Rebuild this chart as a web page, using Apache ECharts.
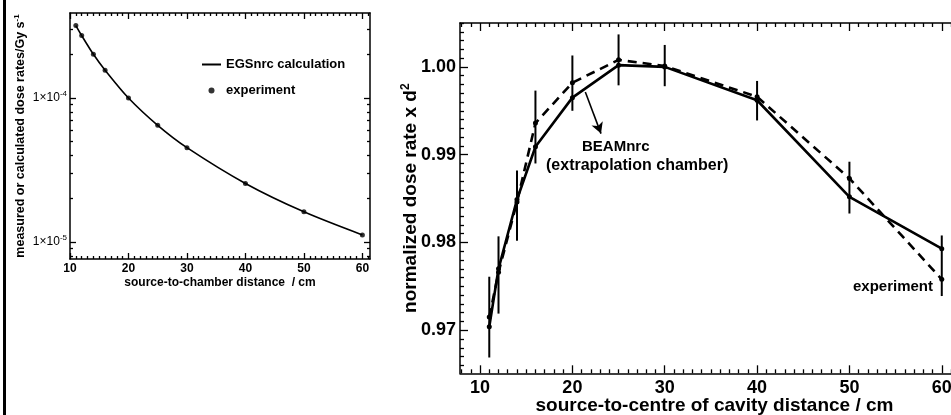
<!DOCTYPE html>
<html><head><meta charset="utf-8">
<script src="https://cdn.jsdelivr.net/npm/echarts@6/dist/echarts.min.js"></script>
<style>html,body{margin:0;padding:0;background:#fff}#c{width:951px;height:415px}</style>
</head><body><div id="c"></div>
<script>
// ---------- Left panel data ----------
const leftDist = [11, 12, 14, 16, 20, 25, 30, 40, 50, 60];
const calcRate = [3.18e-4, 2.71e-4, 2.01e-4, 1.56e-4, 1.0e-4, 6.46e-5, 4.52e-5, 2.55e-5, 1.62e-5, 1.12e-5];
const expRate  = [3.18e-4, 2.71e-4, 2.01e-4, 1.56e-4, 1.0e-4, 6.46e-5, 4.52e-5, 2.55e-5, 1.62e-5, 1.12e-5];
const leftXTicks = [10, 20, 30, 40, 50, 60];
const leftYMajor = [1e-5, 1e-4];
const leftYMinor = [8e-6, 9e-6, 2e-5, 3e-5, 4e-5, 5e-5, 6e-5, 7e-5, 8e-5, 9e-5, 2e-4, 3e-4];

// ---------- Right panel data ----------
const rightDist = [11, 12, 14, 16, 20, 25, 30, 40, 50, 60];
const beamNorm = [0.9704, 0.9770, 0.9849, 0.9909, 0.9965, 1.0002, 1.0000, 0.9962, 0.9852, 0.9793];
const expNorm  = [0.9715, 0.9766, 0.9846, 0.9936, 0.9982, 1.0008, 1.0001, 0.9966, 0.9873, 0.9758];
const errLow   = [0.9669, 0.9719, 0.9802, 0.9890, 0.9950, 0.9979, 0.9978, 0.9939, 0.9833, 0.9739];
const errHigh  = [0.9761, 0.9807, 0.9882, 0.9973, 1.0013, 1.0037, 1.0025, 0.9984, 0.9892, 0.9808];
const rightXTicks = [10, 20, 30, 40, 50, 60];
const rightYTicks = [0.97, 0.98, 0.99, 1.00];
const arrowFrom = [21.4, 0.99715];
const arrowTo = [23.1, 0.99240];

const FONT = '"Liberation Sans", Arial, Helvetica, sans-serif';
const BLACK = '#000';

function minorList(a, b, step, majorStep) {
  const out = [];
  for (let k = Math.round(a / step); k <= Math.round(b / step); k++) {
    if (k % Math.round(majorStep / step) !== 0) out.push(+(k * step).toFixed(6));
  }
  return out;
}
const leftXMinor = minorList(11, 61, 1, 10);
const rightXMinor = minorList(8, 61, 1, 10);
const rightYMinor = minorList(0.966, 1.005, 0.001, 0.01);

function xAx(grid, min, max, pos, ticks, len, opt) {
  return Object.assign({
    type: 'value', gridIndex: grid, position: pos, min: min, max: max,
    axisLine: { show: true, onZero: false, lineStyle: { color: BLACK, width: 1.5 } },
    axisTick: { show: true, inside: true, length: len, customValues: ticks, lineStyle: { color: BLACK, width: 1.3 } },
    axisLabel: { show: false },
    splitLine: { show: false }
  }, opt || {});
}
function yAx(grid, type, min, max, pos, ticks, len, opt) {
  return Object.assign({
    type: type, gridIndex: grid, position: pos, min: min, max: max,
    axisLine: { show: true, onZero: false, lineStyle: { color: BLACK, width: 1.5 } },
    axisTick: { show: true, inside: true, length: len, customValues: ticks, lineStyle: { color: BLACK, width: 1.3 } },
    axisLabel: { show: false },
    splitLine: { show: false }
  }, opt || {});
}

const LXMIN = 10, LXMAX = 61.3, LYMIN = 7.62e-6, LYMAX = 3.89e-4;
const RXMIN = 7.83, RXMAX = 61, RYMIN = 0.9651, RYMAX = 1.0050;

const chart = echarts.init(document.getElementById('c'), null, { renderer: 'canvas' });
chart.setOption({
  backgroundColor: '#fff',
  animation: false,
  grid: [
    { left: 70, top: 13, width: 300, height: 246, outerBoundsMode: 'none', containLabel: false },
    { left: 460, top: 23, width: 491, height: 350.3, outerBoundsMode: 'none', containLabel: false }
  ],
  legend: {
    orient: 'vertical', left: 196, top: 53, itemWidth: 19, itemHeight: 6, itemGap: 13,
    textStyle: { fontFamily: FONT, fontWeight: 'bold', fontSize: 13, color: BLACK },
    data: [
      { name: 'EGSnrc calculation', itemStyle: { opacity: 0 } },
      { name: 'experiment' }
    ]
  },
  xAxis: [
    xAx(0, LXMIN, LXMAX, 'bottom', leftXTicks, 6, {
      axisLabel: { show: true, customValues: leftXTicks, margin: 4, fontFamily: FONT, fontWeight: 'bold', fontSize: 12, color: BLACK },
      name: 'source-to-chamber distance  / cm', nameLocation: 'middle', nameGap: 18, nameMoveOverlap: false,
      nameTextStyle: { fontFamily: FONT, fontWeight: 'bold', fontSize: 12, color: BLACK, verticalAlign: 'top' }
    }),
    xAx(0, LXMIN, LXMAX, 'bottom', leftXMinor, 3, { axisLine: { show: false } }),
    xAx(0, LXMIN, LXMAX, 'top', leftXTicks, 6),
    xAx(0, LXMIN, LXMAX, 'top', leftXMinor, 3, { axisLine: { show: false } }),
    xAx(1, RXMIN, RXMAX, 'bottom', rightXTicks, 8, {
      axisLabel: { show: true, customValues: rightXTicks, margin: 6, fontFamily: FONT, fontWeight: 'bold', fontSize: 18, color: BLACK },
      name: 'source-to-centre of cavity distance / cm', nameLocation: 'middle', nameGap: 23, nameMoveOverlap: false,
      nameTextStyle: { fontFamily: FONT, fontWeight: 'bold', fontSize: 19, color: BLACK, verticalAlign: 'top', padding: [0, 0, 0, 18] }
    }),
    xAx(1, RXMIN, RXMAX, 'bottom', rightXMinor, 4, { axisLine: { show: false } }),
    xAx(1, RXMIN, RXMAX, 'top', rightXTicks, 8),
    xAx(1, RXMIN, RXMAX, 'top', rightXMinor, 4, { axisLine: { show: false } })
  ],
  yAxis: [
    yAx(0, 'log', LYMIN, LYMAX, 'left', leftYMajor, 6, {
      axisLabel: {
        show: true, customValues: leftYMajor, margin: 3,
        formatter: v => '1×10{s|' + Math.round(Math.log10(v)) + '}',
        fontFamily: FONT, fontSize: 12, color: BLACK,
        rich: { s: { fontFamily: FONT, fontSize: 8, color: BLACK, verticalAlign: 'top', padding: [0, 0, 8, 0] } }
      },
      name: 'measured or calculated dose rates/Gy s{s|-1}', nameLocation: 'middle', nameGap: 41, nameMoveOverlap: false,
      nameTextStyle: {
        fontFamily: FONT, fontWeight: 'bold', fontSize: 12.5, color: BLACK,
        rich: { s: { fontFamily: FONT, fontWeight: 'bold', fontSize: 8, color: BLACK, padding: [0, 0, 8, 0] } }
      }
    }),
    yAx(0, 'log', LYMIN, LYMAX, 'left', leftYMinor, 3, { axisLine: { show: false } }),
    yAx(0, 'log', LYMIN, LYMAX, 'right', leftYMajor, 6),
    yAx(0, 'log', LYMIN, LYMAX, 'right', leftYMinor, 3, { axisLine: { show: false } }),
    yAx(1, 'value', RYMIN, RYMAX, 'left', rightYTicks, 8, {
      axisLabel: {
        show: true, customValues: rightYTicks, margin: 4, formatter: v => v.toFixed(2),
        fontFamily: FONT, fontWeight: 'bold', fontSize: 18, color: BLACK
      },
      name: 'normalized dose rate x d{s|2}', nameLocation: 'middle', nameGap: 38, nameMoveOverlap: false,
      nameTextStyle: {
        fontFamily: FONT, fontWeight: 'bold', fontSize: 19, color: BLACK,
        rich: { s: { fontFamily: FONT, fontWeight: 'bold', fontSize: 12, color: BLACK, padding: [0, 0, 10, 0] } }
      }
    }),
    yAx(1, 'value', RYMIN, RYMAX, 'left', rightYMinor, 4, { axisLine: { show: false } })
  ],
  series: [
    {
      name: 'EGSnrc calculation', type: 'line', xAxisIndex: 0, yAxisIndex: 0, smooth: 0.3,
      symbol: 'none', lineStyle: { color: BLACK, width: 1.6 }, itemStyle: { color: BLACK },
      data: leftDist.map((d, i) => [d, calcRate[i]]), z: 3
    },
    {
      name: 'experiment', type: 'scatter', xAxisIndex: 0, yAxisIndex: 0, symbol: 'circle', symbolSize: 5,
      itemStyle: { color: BLACK }, data: leftDist.map((d, i) => [d, expRate[i]]), z: 4
    },
    {
      name: 'BEAMnrc', type: 'line', xAxisIndex: 4, yAxisIndex: 4, symbol: 'circle', symbolSize: 5,
      lineStyle: { color: BLACK, width: 2.6 }, itemStyle: { color: BLACK },
      data: rightDist.map((d, i) => [d, beamNorm[i]]), z: 3,
      markLine: {
        silent: true, symbol: ['none', 'arrow'], symbolSize: [9, 11], label: { show: false },
        lineStyle: { color: BLACK, width: 1.6, type: 'solid' },
        data: [[{ coord: arrowFrom }, { coord: arrowTo }]]
      }
    },
    {
      name: 'exp', type: 'line', xAxisIndex: 4, yAxisIndex: 4, symbol: 'circle', symbolSize: 5,
      lineStyle: { color: BLACK, width: 2.6, type: [9, 6] }, itemStyle: { color: BLACK },
      data: rightDist.map((d, i) => [d, expNorm[i]]), z: 3
    },
    {
      name: 'errbars', type: 'custom', xAxisIndex: 4, yAxisIndex: 4, z: 5,
      data: rightDist.map((d, i) => [d, errLow[i], errHigh[i]]),
      encode: { x: 0, y: [1, 2] },
      renderItem: (params, api) => {
        const p1 = api.coord([api.value(0), api.value(1)]);
        const p2 = api.coord([api.value(0), api.value(2)]);
        return { type: 'line', shape: { x1: p1[0], y1: p1[1], x2: p2[0], y2: p2[1] }, style: { stroke: BLACK, lineWidth: 2 } };
      }
    }
  ],
  graphic: [
    { type: 'rect', shape: { x: 3, y: 0, width: 3, height: 415 }, style: { fill: BLACK }, silent: true },
    { type: 'text', left: 582, top: 139, style: { text: 'BEAMnrc', font: 'bold 15px ' + FONT, fill: BLACK } },
    { type: 'text', left: 546, top: 158, style: { text: '(extrapolation chamber)', font: 'bold 16px ' + FONT, fill: BLACK } },
    { type: 'text', left: 853, top: 279, style: { text: 'experiment', font: 'bold 15px ' + FONT, fill: BLACK } }
  ]
});
</script>
</body></html>
